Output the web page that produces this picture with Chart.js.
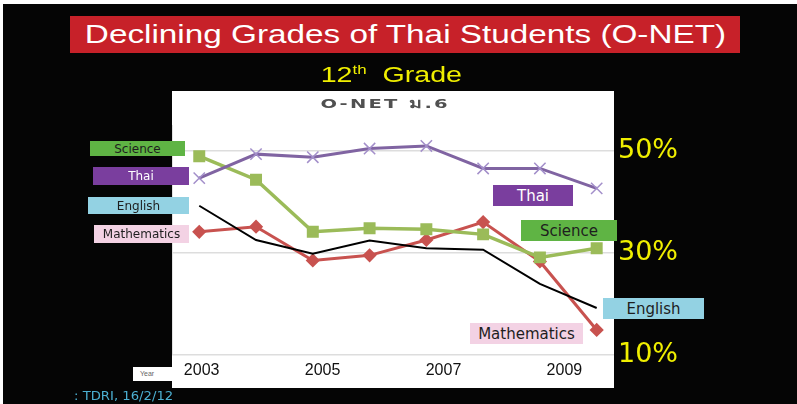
<!DOCTYPE html>
<html>
<head>
<meta charset="utf-8">
<script src="https://cdn.jsdelivr.net/npm/chart.js@4.4.1/dist/chart.umd.min.js"></script>
<style>
  html, body { margin: 0; padding: 0; background: #050505; }
  #slide { position: relative; width: 797px; height: 404px; overflow: hidden; background: #050505; }
  #chartBox { position: absolute; left: 0; top: 0; width: 797px; height: 404px; }
  .edge { position: absolute; background: #fff; }
  .tag { position: absolute; display: flex; align-items: center; justify-content: center;
         font-family: 'DejaVu Sans', sans-serif; color: #1e1e1e; white-space: nowrap; z-index: 2; }
  .small { font-size: 12px; }
  .big { font-size: 15px; }
  .sci { background: #5fb444; }
  .tha { background: #7a3e9e; color: #fff; }
  .eng { background: #93d2e3; }
  .mat { background: #f3d2e4; }
  #banner { position: absolute; left: 70px; top: 16px; width: 670px; height: 37px; background: #c72129;
            display: flex; align-items: center; justify-content: center; z-index: 2; }
  #banner span { font-family: 'Liberation Sans', Arial, sans-serif; font-size: 26px; color: #fff;
                 transform: scaleX(1.28); }
  #grade { position: absolute; left: 291px; top: 61px; width: 200px; height: 28px; z-index: 2;
           display: flex; align-items: center; justify-content: center; }
  #grade span { font-family: 'Liberation Sans', Arial, sans-serif; font-size: 22px; color: #f0ef00;
                transform: scaleX(1.3); white-space: pre; }
  #grade sup { font-size: 13px; vertical-align: 8px; line-height: 0; }
  #plotTitle { position: absolute; left: 285px; top: 94px; width: 200px; height: 18px; z-index: 2;
               display: flex; align-items: center; justify-content: center; }
  #plotTitle span { font-family: 'DejaVu Sans', sans-serif; font-weight: bold; font-size: 13px;
                    letter-spacing: 1.5px; color: #505050; transform: scaleX(1.5); white-space: pre; }
  #yearTag { position: absolute; left: 133px; top: 367px; width: 40px; height: 14px; background: #fff;
             font-family: 'Liberation Sans', Arial, sans-serif; font-size: 7px; color: #666;
             line-height: 14px; padding-left: 7px; box-sizing: border-box; z-index: 2; }
  #source { position: absolute; left: 74px; top: 389px; font-family: 'DejaVu Sans', sans-serif;
            font-size: 12px; color: #4cb0d2; transform: scaleX(1.1); transform-origin: left center;
            white-space: nowrap; z-index: 2; }
</style>
</head>
<body>
<div id="slide">
  <div id="chartBox"><canvas id="onetChart"></canvas></div>
  <div class="edge" style="left:0;top:0;width:797px;height:4px"></div>
  <div class="edge" style="left:0;top:0;width:3px;height:404px"></div>

  <div id="banner"><span>Declining Grades of Thai Students (O-NET)</span></div>
  <div id="grade"><span>12<sup>th</sup>  Grade</span></div>
  <div id="plotTitle"><span>O-NET ม.6</span></div>

  <!-- легенда слева -->
  <div class="tag small sci" style="left:90px;top:141px;width:95px;height:15px">Science</div>
  <div class="tag small tha" style="left:93px;top:167px;width:96px;height:18px">Thai</div>
  <div class="tag small eng" style="left:88px;top:197px;width:101px;height:17px">English</div>
  <div class="tag small mat" style="left:94px;top:225px;width:95px;height:18px">Mathematics</div>

  <!-- подписи у линий -->
  <div class="tag big tha" style="left:493px;top:185px;width:80px;height:21px">Thai</div>
  <div class="tag big sci" style="left:521px;top:220px;width:96px;height:21px">Science</div>
  <div class="tag big eng" style="left:603px;top:298px;width:101px;height:21px">English</div>
  <div class="tag big mat" style="left:470px;top:323px;width:113px;height:21px">Mathematics</div>

  <div id="yearTag">Year</div>
  <div id="source">: TDRI, 16/2/12</div>
</div>

<script>
  // --- Данные ---
  const rounds = [0, 1, 2, 3, 4, 5, 6, 7];
  const yearTicks = [2003, 2005, 2007, 2009];
  const percentTicks = [10, 30, 50];

  const thaiScores = [44.6, 49.3, 48.7, 50.4, 50.9, 46.5, 46.5, 42.6];
  const scienceScores = [48.9, 44.3, 34.1, 34.8, 34.6, 33.6, 29.1, 30.9];
  const englishScores = [39.2, 32.5, 29.8, 32.4, 30.9, 30.6, 23.9, 19.2];
  const mathScores = [34.1, 35.1, 28.5, 29.5, 32.5, 36.0, 28.3, 14.9];

  const toPoints = values => values.map((v, i) => ({ x: rounds[i], y: v }));

  // белая подложка графика вместе с подписями лет
  const plotBackground = {
    id: 'plotBackground',
    beforeDraw(chart) {
      const { ctx, chartArea } = chart;
      const bottom = chart.scales.year.bottom;
      ctx.save();
      ctx.fillStyle = '#ffffff';
      ctx.fillRect(chartArea.left, chartArea.top - 34, chartArea.width, bottom - chartArea.top + 34);
      ctx.strokeStyle = '#e2e2e2';
      ctx.lineWidth = 1;
      ctx.beginPath();
      ctx.moveTo(chartArea.left + 0.5, chartArea.top);
      ctx.lineTo(chartArea.left + 0.5, chartArea.bottom);
      ctx.stroke();
      ctx.restore();
    }
  };

  const ctx = document.getElementById('onetChart').getContext('2d');

  new Chart(ctx, {
    type: 'line',
    data: {
      datasets: [
        {
          label: 'English', data: toPoints(englishScores), order: 0,
          borderColor: '#000000', borderWidth: 2, pointRadius: 0
        },
        {
          label: 'Thai', data: toPoints(thaiScores), order: 1,
          borderColor: '#8064a2', borderWidth: 3,
          pointStyle: 'crossRot', pointRadius: 8, pointBorderColor: '#a38fca', pointBorderWidth: 1.5
        },
        {
          label: 'Science', data: toPoints(scienceScores), order: 2,
          borderColor: '#9bbb59', borderWidth: 3.5,
          pointStyle: 'rect', pointRadius: 6, pointBackgroundColor: '#9bbb59', pointBorderColor: '#9bbb59'
        },
        {
          label: 'Mathematics', data: toPoints(mathScores), order: 3,
          borderColor: '#c8524f', borderWidth: 3,
          pointStyle: 'rectRot', pointRadius: 5, pointBackgroundColor: '#c8524f', pointBorderColor: '#c8524f'
        }
      ]
    },
    options: {
      responsive: true,
      maintainAspectRatio: false,
      animation: false,
      layout: { padding: { left: 172, top: 125, right: 0, bottom: 16 } },
      plugins: { legend: { display: false }, tooltip: { enabled: false } },
      elements: { line: { tension: 0 } },
      scales: {
        x: { type: 'linear', min: -0.48, max: 7.305, display: false },
        year: {
          type: 'linear', position: 'bottom', min: 2002.51, max: 2009.82,
          grid: { display: false, drawTicks: false }, border: { display: false },
          afterBuildTicks: s => { s.ticks = yearTicks.map(v => ({ value: v })); },
          afterFit: s => { s.height = 33; },
          ticks: {
            color: '#111', padding: 6, autoSkip: false, maxRotation: 0,
            font: { family: 'Liberation Sans', size: 16 },
            callback: v => String(v)
          }
        },
        y: {
          position: 'right', min: 10, max: 55,
          afterBuildTicks: s => { s.ticks = percentTicks.map(v => ({ value: v })); },
          afterFit: s => { s.width = 183; },
          grid: { color: '#dddddd', lineWidth: 1.5, drawTicks: false },
          border: { display: false },
          ticks: {
            color: '#f0ef00', padding: 4,
            font: { family: 'DejaVu Sans', size: 27 },
            callback: v => `${v}%`
          }
        }
      }
    },
    plugins: [plotBackground]
  });
</script>
</body>
</html>
